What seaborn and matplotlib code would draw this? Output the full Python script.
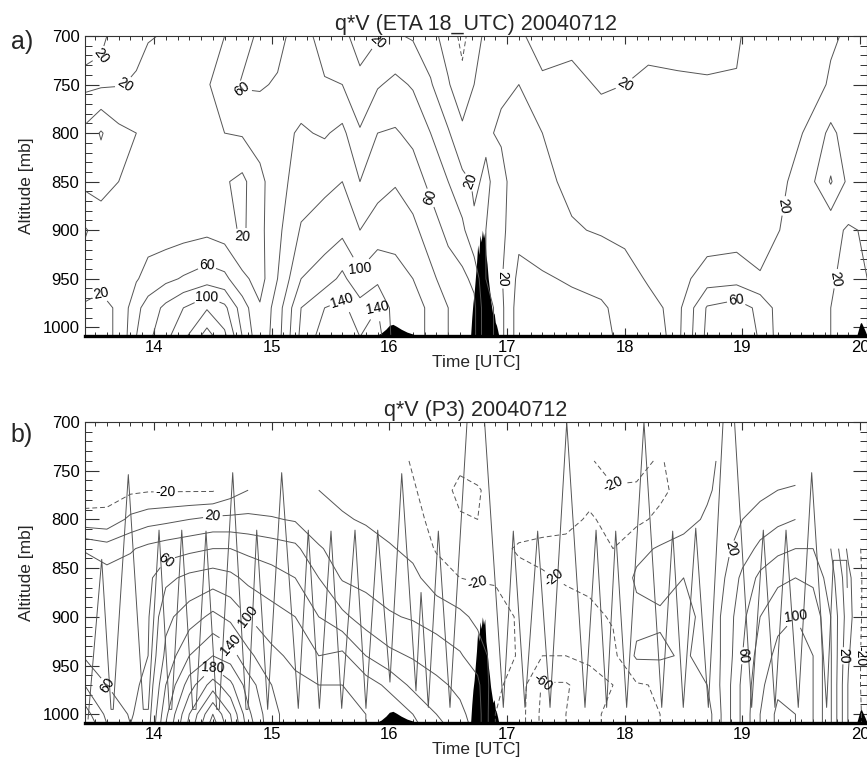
import numpy as np
import pandas as pd
import matplotlib
matplotlib.use("Agg")
import matplotlib.pyplot as plt
import seaborn as sns
from matplotlib.ticker import MultipleLocator

# ETA model q*V, one vertical profile per time (values at eta_pres)
eta_time = [13.41, 13.55, 13.7, 13.85, 13.95, 14.1, 14.25, 14.45, 14.6, 14.75,
            14.9, 15.05, 15.25, 15.45, 15.6, 15.75, 15.9, 16.05, 16.2, 16.35,
            16.5, 16.62, 16.72, 16.82, 16.95, 17.1, 17.3, 17.55, 17.8, 18.0,
            18.2, 18.45, 18.7, 18.95, 19.15, 19.35, 19.55, 19.75, 19.9, 20.06]
eta_pres = [700, 750, 800, 850, 900, 950, 980, 1010]
eta_qv = [
    [28, 15, 45, 45, 18, 28, 18, 18],
    [22, 17, 62, 48, 28, 24, 16, 16],
    [16, 19, 45, 40, 32, 26, 22, 22],
    [15, 22, 40, 38, 30, 38, 55, 60],
    [18, 32, 38, 36, 30, 48, 68, 75],
    [22, 20, 30, 34, 30, 55, 85, 95],
    [28, 30, 24, 32, 32, 62, 100, 115],
    [32, 38, 40, 30, 35, 70, 118, 150],
    [40, 50, 40, 22, 30, 65, 105, 125],
    [52, 62, 42, 15, 16, 45, 70, 80],
    [64, 62, 48, 35, 35, 32, 42, 45],
    [66, 58, 55, 52, 55, 60, 70, 72],
    [50, 52, 62, 70, 82, 100, 120, 125],
    [30, 42, 58, 75, 90, 110, 140, 150],
    [25, 40, 65, 80, 95, 125, 145, 155],
    [12, 25, 42, 60, 80, 105, 128, 140],
    [18, 38, 60, 72, 90, 115, 140, 150],
    [22, 45, 62, 78, 95, 105, 110, 110],
    [18, 38, 55, 70, 85, 100, 110, 110],
    [8, 22, 40, 55, 70, 85, 95, 95],
    [-10, 2, 22, 40, 55, 70, 80, 80],
    [-25, -15, 5, 25, 45, 65, 75, 75],
    [-10, 0, 15, 18, 22, 55, 65, 65],
    [5, 12, 18, 22, 20, 20, 25, 25],
    [15, 18, 22, 15, 15, 18, 15, 15],
    [18, 20, 25, 30, 35, 45, 50, 50],
    [25, 18, 20, 25, 30, 42, 48, 48],
    [25, 15, 12, 15, 22, 38, 45, 45],
    [25, 22, 12, 12, 18, 35, 42, 42],
    [25, 20, 10, 10, 15, 28, 35, 38],
    [26, 16, 10, 8, 10, 18, 26, 28],
    [25, 18, 10, 8, 8, 12, 14, 15],
    [24, 19, 10, 8, 8, 30, 62, 65],
    [22, 19, 12, 8, 10, 32, 70, 75],
    [12, 10, 10, 8, 10, 22, 55, 58],
    [10, 8, 12, 18, 22, 25, 26, 26],
    [10, 12, 22, 30, 30, 30, 30, 30],
    [18, 22, 45, 62, 25, 22, 20, 20],
    [22, 25, 30, 35, 18, 15, 15, 15],
    [25, 28, 30, 30, 22, 20, 18, 18],
]

# P3 aircraft q*V, one profile per time (nan = no data)
nan = np.nan
p3_time = [13.41, 13.6, 13.8, 13.95, 14.1, 14.3, 14.5, 14.65, 14.8, 15.0,
           15.2, 15.4, 15.6, 15.8, 16.0, 16.2, 16.4, 16.6, 16.75, 16.9,
           17.1, 17.3, 17.5, 17.7, 17.9, 18.1, 18.3, 18.5, 18.7, 18.85,
           19.0, 19.15, 19.3, 19.45, 19.6, 19.75, 19.9, 20.06]
p3_pres = [740, 770, 800, 830, 860, 900, 940, 970, 1000, 1010]
p3_qv = [
    [nan, -30, -14, 38, 55, 50, 58, 80, 110, 120],
    [nan, -27, -15, 30, 48, 50, 52, 60, 75, 80],
    [nan, -24, 5, 38, 50, 52, 52, 55, 58, 60],
    [nan, -22, 12, 45, 55, 58, 60, 65, 70, 72],
    [nan, -22, 15, 50, 75, 95, 105, 120, 135, 140],
    [nan, -22, 20, 55, 85, 110, 140, 170, 200, 205],
    [nan, -22, 25, 60, 90, 125, 160, 210, 260, 270],
    [nan, -10, 25, 60, 85, 115, 150, 185, 220, 225],
    [nan, 0, 25, 55, 75, 100, 125, 150, 165, 170],
    [nan, 2, 22, 50, 68, 88, 105, 120, 125, 125],
    [nan, 2, 18, 45, 60, 80, 95, 105, 110, 110],
    [nan, 0, 8, 22, 40, 60, 80, 100, 110, 110],
    [nan, -5, 2, 12, 18, 45, 85, 100, 108, 108],
    [nan, -10, -2, 8, 14, 30, 60, 90, 100, 100],
    [-10, -15, -8, 2, 10, 22, 45, 75, 95, 95],
    [-22, -18, -12, -5, 5, 18, 38, 55, 80, 85],
    [-30, -30, -28, -22, -10, 12, 30, 45, 60, 65],
    [-35, -45, -38, -28, -20, 5, 22, 35, 45, 50],
    [-30, -42, -40, -30, -22, -5, 10, 25, 30, 30],
    [-28, -32, -30, -25, -22, -12, -8, -15, -20, -20],
    [-28, -30, -28, -18, -25, -22, -22, -30, -30, -30],
    [-28, -30, -28, -15, -22, -30, -40, -62, -65, -65],
    [-28, -30, -25, -15, -18, -28, -40, -62, -60, -60],
    [-22, -25, -18, -12, -15, -25, -35, -50, -45, -45],
    [-12, -22, -25, -20, -15, -18, -25, -40, -35, -35],
    [-15, -22, -25, -5, 3, -5, 3, -22, -25, -25],
    [-22, -25, -15, 2, 5, -2, 3, -18, -20, -20],
    [-10, -12, -5, 5, 0, -5, -2, -15, -15, -15],
    [-5, -2, 2, 8, 5, 5, 5, 0, -10, -10],
    [5, 5, 8, 15, 20, 25, 25, 28, 28, 28],
    [8, 12, 20, 30, 45, 55, 60, 65, 65, 65],
    [10, 15, 28, 45, 65, 80, 90, 95, 100, 100],
    [10, 20, 35, 55, 75, 95, 105, 115, 125, 125],
    [10, 22, 40, 60, 80, 100, 110, 115, 120, 120],
    [nan, nan, nan, 60, 75, 95, 100, 100, 100, 100],
    [nan, nan, nan, 40, 50, 60, 62, 62, 62, 62],
    [nan, nan, nan, -5, 5, 8, 2, -2, -2, -2],
    [nan, nan, nan, -28, -30, -32, -32, -30, -28, -28],
]

# P3 flight track (time [UTC], pressure [mb])
track_time = [13.44, 13.556, 13.635, 13.654, 13.782, 13.909, 13.952, 14.043, 14.130, 14.151,
              14.236, 14.329, 14.357, 14.442, 14.533, 14.555, 14.669, 14.782, 14.799, 14.873,
              14.966, 15.085, 15.226, 15.311, 15.405, 15.504, 15.595, 15.708, 15.801, 15.901,
              16.005, 16.105, 16.226, 16.269, 16.331, 16.416, 16.515, 16.731, 16.968, 17.053,
              17.152, 17.260, 17.365, 17.507, 17.662, 17.756, 17.846, 17.923, 18.016, 18.163,
              18.314, 18.407, 18.497, 18.603, 18.710, 18.880, 19.078, 19.177, 19.276, 19.370,
              19.474, 19.588, 19.715, 19.772, 19.885, 19.89]
track_pres = [1005, 841, 995, 995, 754, 995, 995, 811, 995, 995,
              811, 995, 995, 812, 995, 995, 752, 995, 995, 811,
              995, 752, 994, 811, 994, 812, 994, 811, 994, 811,
              967, 753, 976, 875, 993, 812, 993, 556, 993, 812,
              993, 812, 993, 700, 993, 811, 993, 812, 993, 700,
              993, 812, 993, 809, 993, 594, 993, 811, 993, 811,
              993, 752, 993, 842, 842, 870]

# surface rain, drawn as black silhouettes rising from the bottom
rain_time = [15.88, 15.93, 15.97, 16.0, 16.03, 16.06, 16.1, 16.15, 16.2, 16.23,
             16.69, 16.70, 16.71, 16.72, 16.73, 16.74, 16.75, 16.76, 16.77, 16.78,
             16.79, 16.80, 16.81, 16.82, 16.83, 16.84, 16.85, 16.86, 16.87, 16.88,
             16.89, 16.90, 16.91, 16.92, 16.93,
             19.97, 20.0, 20.01, 20.04, 20.06]
rain_top = [1009, 1006, 1002, 998, 997, 999, 1002, 1005, 1007, 1009,
            1009, 990, 975, 965, 950, 935, 915, 925, 905, 912,
            900, 908, 902, 925, 935, 950, 960, 972, 980, 988,
            985, 995, 998, 1003, 1009,
            1009, 996, 995, 1003, 1009]

levels = list(range(-60, 280, 20))
label_levels = [-60, -20, 20, 60, 100, 140, 180]

sns.set_style("ticks")
plt.rcParams['font.family'] = ['Liberation Sans', 'DejaVu Sans']
plt.rcParams['contour.negative_linestyle'] = (0, (5, 3))

W, H = 867, 769
fig = plt.figure(figsize=(W / 100, H / 100), dpi=100)
ax_a = fig.add_axes([85 / W, 1 - 336 / H, 782 / W, 300 / H])
ax_b = fig.add_axes([85 / W, 1 - 723 / H, 782 / W, 301 / H])


def draw_panel(ax, t, p, qv, title):
    z = np.array(qv, dtype=float).T
    cs = ax.contour(t, p, z, levels=levels, colors='#555555', linewidths=0.7)
    ax.clabel(cs, levels=[l for l in label_levels if l in cs.levels],
              fmt='%d', fontsize=10, inline=True, inline_spacing=2, colors='black')
    ax.fill_between(rain_time, rain_top, 1009, color='black', lw=0)
    ax.set_xlim(13.414, 20.058)
    ax.set_ylim(1009, 700)
    ax.xaxis.set_major_locator(MultipleLocator(1))
    ax.xaxis.set_minor_locator(MultipleLocator(0.1))
    ax.yaxis.set_major_locator(MultipleLocator(50))
    ax.yaxis.set_minor_locator(MultipleLocator(10))
    ax.tick_params(which='both', direction='in', top=True, right=True,
                   colors='#333333', labelcolor='black', labelsize=12)
    ax.tick_params(axis='y', which='major', length=10, width=0.8, pad=4)
    ax.tick_params(axis='y', which='minor', length=5, width=0.7)
    ax.tick_params(axis='x', which='major', length=6, width=0.8, pad=3)
    ax.tick_params(axis='x', which='minor', length=3, width=0.7)
    for s in ['top', 'left', 'right']:
        ax.spines[s].set_linewidth(0.8)
        ax.spines[s].set_color('#333333')
    ax.spines['bottom'].set_linewidth(2.4)
    ax.spines['bottom'].set_color('black')
    ax.set_title(title, fontsize=15.5, pad=4)


draw_panel(ax_a, eta_time, eta_pres, eta_qv, 'q*V (ETA 18_UTC) 20040712')
draw_panel(ax_b, p3_time, p3_pres, p3_qv, 'q*V (P3) 20040712')

track = pd.DataFrame({'time': track_time, 'pres': track_pres})
sns.lineplot(data=track, x='time', y='pres', sort=False, estimator=None,
             color='#555555', lw=0.7, ax=ax_b)
ax_b.set_ylim(1009, 700)

for ax in (ax_a, ax_b):
    ax.set_xlabel('Time [UTC]', fontsize=12.5, labelpad=0)
    ax.set_ylabel('Altitude [mb]', fontsize=12.5, labelpad=6)

fig.text(22 / W, 1 - 42 / H, 'a)', fontsize=18, ha='center', va='center')
fig.text(22 / W, 1 - 435 / H, 'b)', fontsize=18, ha='center', va='center')

fig.savefig('out.png', dpi=100)
